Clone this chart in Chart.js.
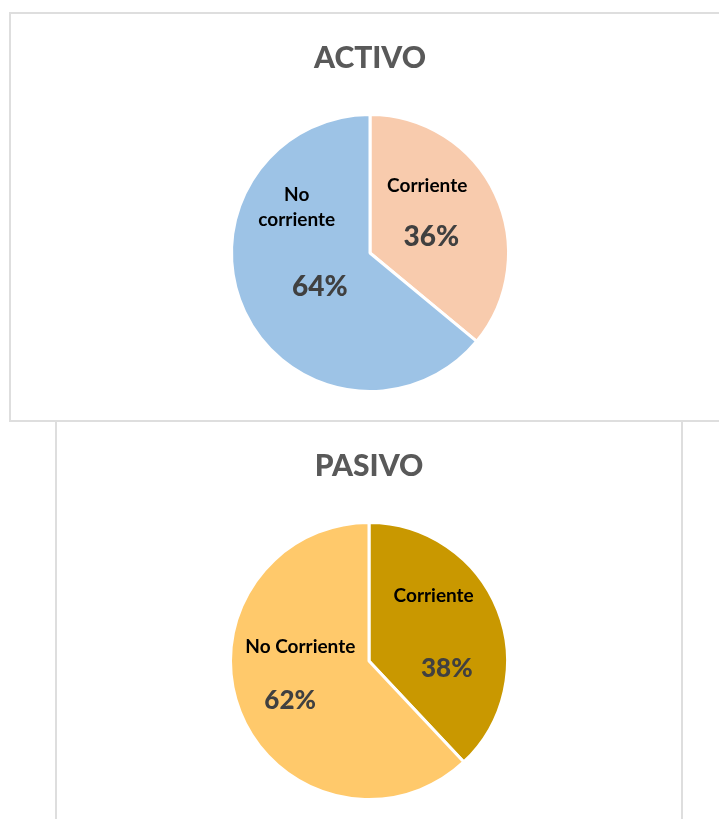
<!DOCTYPE html>
<html>
<head>
<meta charset="utf-8">
<script src="https://cdn.jsdelivr.net/npm/chart.js@4.4.1/dist/chart.umd.min.js"></script>
<style>
  body { margin: 0; background: #fff; width: 719px; height: 819px; overflow: hidden; position: relative; }
  .box { position: absolute; box-sizing: border-box; border: 2px solid #dedede; background: #fff; }
  #box_activo { left: 9px; top: 12px; width: 740px; height: 410px; }
  #box_pasivo { left: 55px; top: 420px; width: 628px; height: 420px; }
  .wrap { position: absolute; top: 0; left: 0; height: 406px; }
  #box_activo .wrap { width: 718px; }
  #box_pasivo .wrap { width: 624px; }
</style>
</head>
<body>
<div class="box" id="box_activo"><div class="wrap"><canvas id="activo"></canvas></div></div>
<div class="box" id="box_pasivo"><div class="wrap"><canvas id="pasivo"></canvas></div></div>
<script>
const activoLabels = ['Corriente', 'No corriente'];
const activoValues = [36, 64];
const activoColors = ['#F8CBAD', '#9DC3E6'];

const pasivoLabels = ['Corriente', 'No Corriente'];
const pasivoValues = [38, 62];
const pasivoColors = ['#C99800', '#FFC96B'];

// text on the slices, drawn at spots relative to the pie centre (in radius units)
const sliceText = {
  id: 'sliceText',
  afterDatasetsDraw(chart, args, opts) {
    let ctx = chart.ctx;
    let meta = chart.getDatasetMeta(0);
    let values = chart.data.datasets[0].data;
    let total = values.reduce((a, b) => a + b, 0);
    ctx.save();
    ctx.textAlign = 'center';
    ctx.textBaseline = 'alphabetic';
    meta.data.forEach((arc, i) => {
      let r = arc.outerRadius;
      let lines = opts.names[i];
      let np = opts.namePos[i];
      ctx.font = 'bold ' + opts.nameSize + 'px Lato';
      ctx.fillStyle = '#000';
      lines.forEach((line, k) => {
        let y = arc.y + np[1] * r + opts.nameSize * 0.36 + k * opts.lineGap;
        ctx.fillText(line, arc.x + np[0] * r, y);
      });
      let pp = opts.pctPos[i];
      ctx.font = '900 ' + opts.pctSize + 'px Lato';
      ctx.fillStyle = '#404040';
      let pct = Math.round(values[i] / total * 100) + '%';
      ctx.fillText(pct, arc.x + pp[0] * r, arc.y + pp[1] * r + opts.pctSize * 0.36);
    });
    ctx.restore();
  },
};

function chart_pie(id, title, labels, values, colors, text) {
  let ctx = document.getElementById(id).getContext('2d');
  return new Chart(ctx, {
    type: 'pie',
    data: {
      labels: labels,
      datasets: [
        {
          data: values,
          backgroundColor: colors,
          borderColor: '#ffffff',
          borderWidth: 3,
        },
      ],
    },
    options: {
      responsive: true,
      maintainAspectRatio: false,
      animation: false,
      layout: { padding: { bottom: 27 } },
      plugins: {
        legend: { display: false },
        tooltip: { enabled: false },
        title: {
          display: true,
          text: title,
          color: '#595959',
          font: { family: 'Lato', weight: '900', size: 30, lineHeight: 1.2 },
          padding: { top: 26, bottom: 37 },
        },
        sliceText: text,
      },
    },
    plugins: [sliceText],
  });
}

document.addEventListener('DOMContentLoaded', (ev) => {
  chart_pie('activo', 'ACTIVO', activoLabels, activoValues, activoColors, {
    names: [['Corriente'], ['No', 'corriente']],
    namePos: [[0.413, -0.493], [-0.529, -0.424]],
    pctPos: [[0.442, -0.123], [-0.362, 0.239]],
    nameSize: 19,
    pctSize: 28,
    lineGap: 25,
  });
  chart_pie('pasivo', 'PASIVO', pasivoLabels, pasivoValues, pasivoColors, {
    names: [['Corriente'], ['No Corriente']],
    namePos: [[0.467, -0.474], [-0.496, -0.109]],
    pctPos: [[0.562, 0.051], [-0.569, 0.277]],
    nameSize: 19,
    pctSize: 26,
    lineGap: 25,
  });
});
</script>
</body>
</html>
